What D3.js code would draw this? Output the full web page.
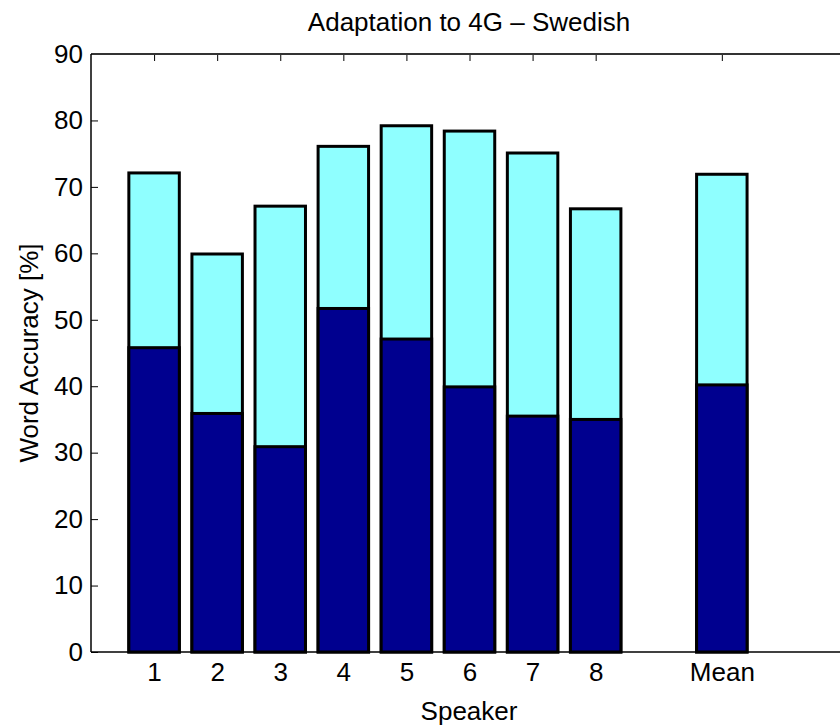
<!DOCTYPE html>
<html>
<head>
<meta charset="utf-8">
<script src="https://cdn.jsdelivr.net/npm/d3@7"></script>
<style>
  body { margin: 0; background: #fff; }
  text { font-family: "Liberation Sans", Arial, Helvetica, sans-serif; fill: #000; }
</style>
</head>
<body>
<div id="chart"></div>
<script>
// speaker word accuracy
var speakers = ["1", "2", "3", "4", "5", "6", "7", "8", "Mean"];
var positions = [1, 2, 3, 4, 5, 6, 7, 8, 10];
var baseline = [45.8, 35.9, 30.9, 51.7, 47.1, 39.9, 35.5, 35.0, 40.2];
var adapted = [72.1, 59.9, 67.1, 76.1, 79.2, 78.4, 75.1, 66.7, 71.9];
var yTicks = [0, 10, 20, 30, 40, 50, 60, 70, 80, 90];

var width = 840, height = 727;
var margin = {left: 91, top: 54, bottom: 75};
var fs = "26px";

var svg = d3.select("#chart").append("svg")
  .attr("width", width)
  .attr("height", height);

var x = d3.scaleLinear().domain([0, 12]).range([margin.left, 848]);
var y = d3.scaleLinear().domain([0, 90]).range([height - margin.bottom, margin.top]);
var barW = (x(1) - x(0)) * 0.8;

var data = speakers.map(function(s, i) {
  return {name: s, pos: positions[i], base: baseline[i], total: adapted[i]};
});

// light part (adapted), then dark part (baseline) drawn over it
svg.append("g").selectAll("rect")
  .data(data)
  .enter().append("rect")
  .attr("x", function(d) { return x(d.pos) - barW / 2; })
  .attr("y", function(d) { return y(d.total); })
  .attr("width", barW)
  .attr("height", function(d) { return y(0) - y(d.total); })
  .style("fill", "#8fffff")
  .style("stroke", "#000")
  .style("stroke-width", 3);

svg.append("g").selectAll("rect")
  .data(data)
  .enter().append("rect")
  .attr("x", function(d) { return x(d.pos) - barW / 2; })
  .attr("y", function(d) { return y(d.base); })
  .attr("width", barW)
  .attr("height", function(d) { return y(0) - y(d.base); })
  .style("fill", "#00008f")
  .style("stroke", "#000")
  .style("stroke-width", 3);

// axes, matlab style (ticks inside)
var yAxis = d3.axisLeft(y).tickValues(yTicks).tickSize(-7).tickPadding(8);
var gy = svg.append("g")
  .attr("transform", "translate(" + margin.left + ",0)")
  .call(yAxis);
gy.select(".domain").remove();
gy.selectAll("line").attr("stroke", "#000");
gy.selectAll("text").style("font-size", fs);

var gx = svg.append("g")
  .attr("transform", "translate(0," + y(0) + ")")
  .call(d3.axisBottom(x).tickValues(positions)
    .tickFormat(function(d, i) { return speakers[i]; })
    .tickSize(0).tickPadding(11));
gx.select(".domain").remove();
gx.selectAll("text").style("font-size", fs);

var gt = svg.append("g")
  .attr("transform", "translate(0," + y(90) + ")")
  .call(d3.axisBottom(x).tickValues(positions).tickFormat("").tickSize(7));
gt.select(".domain").remove();
gt.selectAll("line").attr("stroke", "#000");

// box lines
svg.append("line")
  .attr("x1", x(0)).attr("x2", width)
  .attr("y1", y(90)).attr("y2", y(90))
  .attr("stroke", "#333").attr("stroke-width", 2);
svg.append("line")
  .attr("x1", x(0)).attr("x2", width)
  .attr("y1", y(0)).attr("y2", y(0))
  .attr("stroke", "#000").attr("stroke-width", 1.5);
svg.append("line")
  .attr("x1", x(0)).attr("x2", x(0))
  .attr("y1", y(0)).attr("y2", y(90))
  .attr("stroke", "#000").attr("stroke-width", 1.5);

// labels
svg.append("text")
  .attr("x", 469).attr("y", 31)
  .attr("text-anchor", "middle")
  .style("font-size", fs)
  .text("Adaptation to 4G \u2013 Swedish");

svg.append("text")
  .attr("x", 469).attr("y", 720)
  .attr("text-anchor", "middle")
  .style("font-size", fs)
  .text("Speaker");

svg.append("text")
  .attr("transform", "translate(38," + ((y(0) + y(90)) / 2) + ") rotate(-90)")
  .attr("text-anchor", "middle")
  .style("font-size", fs)
  .text("Word Accuracy [%]");
</script>
</body>
</html>
